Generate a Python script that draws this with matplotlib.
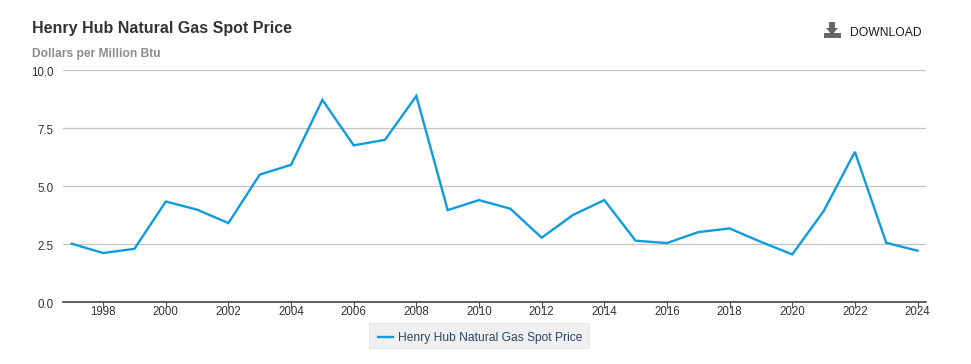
import matplotlib
matplotlib.use('Agg')
import matplotlib.pyplot as plt
from matplotlib.patches import Polygon, Rectangle
from matplotlib.transforms import ScaledTranslation

years = list(range(1997, 2025))
prices = [2.49, 2.09, 2.27, 4.31, 3.96, 3.38, 5.47, 5.89, 8.69, 6.73, 6.97, 8.86, 3.94, 4.37,
          4.00, 2.75, 3.73, 4.37, 2.62, 2.52, 2.99, 3.15, 2.57, 2.03, 3.89, 6.45, 2.53, 2.19]
x_ticks = list(range(1998, 2025, 2))
y_ticks = [0.0, 2.5, 5.0, 7.5, 10.0]
title = 'Henry Hub Natural Gas Spot Price'
subtitle = 'Dollars per Million Btu'
series_name = 'Henry Hub Natural Gas Spot Price'

W, H = 971, 364
plt.rcParams['font.family'] = ['Liberation Sans', 'DejaVu Sans']


def fx(px):
    return px / W


def fy(py):
    return 1 - py / H


def main():
    fig = plt.figure(figsize=(W / 100, H / 100), dpi=100)
    ax = fig.add_axes([fx(63), fy(301.5), (926 - 63) / W, (301.5 - 69.5) / H])

    # chart
    ax.plot(years, prices, color='#0f9bdc', linewidth=1.7, solid_joinstyle='miter', zorder=3)
    ax.set_xlim(1996.72, 2024.27)
    ax.set_ylim(0, 10)
    ax.set_xticks(x_ticks)
    ax.set_yticks(y_ticks)
    ax.set_yticklabels(['%.1f' % v for v in y_ticks])
    ax.grid(axis='y', color='#c4c4c4', linewidth=0.9)
    ax.set_axisbelow(True)
    for side in ['top', 'left', 'right']:
        ax.spines[side].set_visible(False)
    ax.spines['bottom'].set_color('#333333')
    ax.spines['bottom'].set_linewidth(1.1)
    ax.tick_params(axis='x', length=4, width=0.8, color='#555555', labelsize=8.3,
                   labelcolor='#333333', pad=-1)
    ax.tick_params(axis='y', length=0, labelsize=8.3, labelcolor='#333333', pad=7)

    # y labels sit a little below their gridlines
    shift = ScaledTranslation(0, -2 / 100, fig.dpi_scale_trans)
    for label in ax.get_yticklabels():
        label.set_transform(label.get_transform() + shift)

    # header
    fig.text(fx(32), fy(29), title, fontsize=11.5, fontweight='bold', color='#333333', va='center')
    fig.text(fx(32), fy(53.5), subtitle, fontsize=8.65, fontweight='bold', color='#8c8c8c', va='center')
    fig.text(fx(850), fy(33), 'DOWNLOAD', fontsize=8.7, color='#1a1a2a', va='center')

    # download icon
    fig.patches.append(Rectangle((fx(823.5), fy(38)), 17.5 / W, 5 / H, color='#666666',
                                 linewidth=0, transform=fig.transFigure))
    arrow = [(829, 22), (835, 22), (835, 28), (838, 28), (832, 35), (826, 28), (829, 28)]
    fig.patches.append(Polygon([(fx(a), fy(b)) for a, b in arrow], color='#666666',
                               linewidth=0, transform=fig.transFigure))

    # legend box
    fig.patches.append(Rectangle((fx(369), fy(348)), 220 / W, 25 / H, facecolor='#f0f0f0',
                                 edgecolor='#e8e8e8', linewidth=0.8, transform=fig.transFigure))
    fig.add_artist(plt.Line2D([fx(377.5), fx(393)], [fy(337), fy(337)], color='#0f9bdc', linewidth=1.7))
    fig.text(fx(398), fy(338), series_name, fontsize=8.65, color='#2f4468', va='center')

    fig.savefig('out.png', dpi=100)


if __name__ == "__main__":
    main()
